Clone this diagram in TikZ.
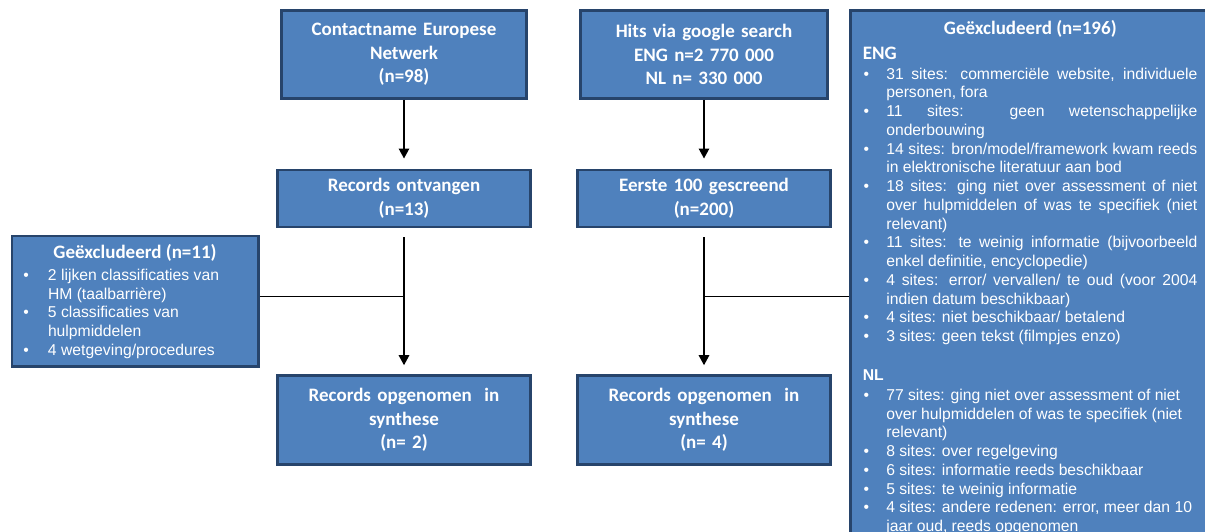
\documentclass[tikz,border=0pt]{standalone}
\usepackage{fontspec}
\setmainfont{Liberation Sans}
\newfontfamily\calfont{Carlito}
\usetikzlibrary{arrows.meta}

\definecolor{boxfill}{HTML}{4F81BD}
\definecolor{boxline}{HTML}{27446B}

% bullet list helpers: \bulx = bullet indent, \txtx = text indent, \txtw = justified width
\newlength\bulx
\newlength\txtx
\newlength\txtw
\newcommand\headfont{\calfont\bfseries\fontsize{19}{23.7}\selectfont}
\newcommand\bitem[1]{\hspace*{\bulx}\makebox[\dimexpr\txtx-\bulx\relax][l]{•}#1}
\newcommand\bitemj[1]{\hspace*{\bulx}\makebox[\dimexpr\txtx-\bulx\relax][l]{•}\makebox[\txtw][s]{#1}}
\newcommand\bcont[1]{\hspace*{\txtx}#1}
\newcommand\bcontj[1]{\hspace*{\txtx}\makebox[\txtw][s]{#1}}

\begin{document}
\begin{tikzpicture}[x=1pt,y=-1pt,
  flowbox/.style={draw=boxline, fill=boxfill, line width=2.6pt, text=white,
    align=center, inner sep=0pt, font=\headfont},
  exclbox/.style={draw=boxline, fill=boxfill, line width=2.6pt, text=white,
    inner sep=0pt, anchor=north west},
  link/.style={line width=1.4pt, draw=black},
  arr/.style={link, -{Triangle[width=10.5pt,length=10pt]}},
]
\useasboundingbox (0,0) rectangle (1205,531);
\clip (0,0) rectangle (1205,531);

% left column
\node[flowbox, minimum width=245pt, minimum height=88pt, text width=240pt]
  (src1) at (404,54.5) {Contactname Europese\\Netwerk\\(n=98)};
\node[flowbox, minimum width=253pt, minimum height=57pt, text width=245pt]
  (rec1) at (404,198.3) {Records ontvangen\\(n=13)};
\node[flowbox, minimum width=253pt, minimum height=89pt, text width=245pt]
  (syn1) at (404,420) {Records opgenomen\ \ in\\synthese\\(n= 2)};

% right column
\node[flowbox, minimum width=247pt, minimum height=88pt, text width=240pt]
  (src2) at (704,54.5) {Hits via google search\\ENG n=2 770 000\\NL n= 330 000};
\node[flowbox, minimum width=253pt, minimum height=57pt, text width=245pt]
  (rec2) at (704,198.3) {Eerste 100 gescreend\\(n=200)};
\node[flowbox, minimum width=253pt, minimum height=89pt, text width=245pt]
  (syn2) at (704,420) {Records opgenomen\ \ in\\synthese\\(n= 4)};

% exclusions, left
\node[exclbox] (exclL) at (10.5,234.5) {\parbox[c][130.5pt][t]{246.5pt}{%
  \setlength\lineskiplimit{-100pt}\fontsize{15.7}{18.75}\selectfont
  \setlength\bulx{11.5pt}\setlength\txtx{36.2pt}%
  \makebox[246.5pt][c]{\rule{0pt}{22.2pt}{\headfont Geëxcludeerd (n=11)}}\\[3.5pt]
  \bitem{2 lijken classificaties van}\\
  \bcont{HM (taalbarrière)}\\
  \bitem{5 classificaties van}\\
  \bcont{hulpmiddelen}\\
  \bitem{4 wetgeving/procedures}}};

% exclusions, right
\node[exclbox] (exclR) at (849,9) {\parbox[c][540pt][t]{360pt}{%
  \setlength\lineskiplimit{-100pt}\fontsize{15.7}{18.75}\selectfont
  \setlength\bulx{13.3pt}\setlength\txtx{36pt}\setlength\txtw{311pt}%
  \makebox[360pt][c]{\rule{0pt}{24.5pt}{\headfont Geëxcludeerd (n=196)}}\\[5.55pt]
  \hspace*{12.5pt}{\headfont ENG}\\[1.25pt]
  \bitemj{31 sites: commerciële website, individuele}\\
  \bcont{personen, fora}\\
  \bitemj{11 sites: geen wetenschappelijke}\\
  \bcont{onderbouwing}\\
  \bitemj{14 sites: bron/model/framework kwam reeds}\\
  \bcont{in elektronische literatuur aan bod}\\
  \bitemj{18 sites: ging niet over assessment of niet}\\
  \bcontj{over hulpmiddelen of was te specifiek (niet}\\
  \bcont{relevant)}\\
  \bitemj{11 sites: te weinig informatie (bijvoorbeeld}\\
  \bcont{enkel definitie, encyclopedie)}\\
  \bitemj{4 sites: error/ vervallen/ te oud (voor 2004}\\
  \bcont{indien datum beschikbaar)}\\
  \bitem{4 sites: niet beschikbaar/ betalend}\\
  \bitem{3 sites: geen tekst (filmpjes enzo)}\\
  \mbox{}\\[1.8pt]
  \hspace*{12.5pt}{\bfseries NL}\\[0.7pt]
  \bitem{77 sites: ging niet over assessment of niet}\\
  \bcont{over hulpmiddelen of was te specifiek (niet}\\
  \bcont{relevant)}\\
  \bitem{8 sites: over regelgeving}\\
  \bitem{6 sites: informatie reeds beschikbaar}\\
  \bitem{5 sites: te weinig informatie}\\
  \bitem{4 sites: andere redenen: error, meer dan 10}\\
  \bcont{jaar oud, reeds opgenomen}}};

% junctions where the exclusion lines meet the main flow
\coordinate (jL) at (404,296.7);
\coordinate (jR) at (704,296.7);

% connectors
\draw[arr, shorten >=10pt] (src1.south) -- (rec1.north);
\draw[arr, shorten <=9pt, shorten >=9pt] (rec1.south) -- (syn1.north);
\draw[arr, shorten >=10pt] (src2.south) -- (rec2.north);
\draw[arr, shorten <=9pt, shorten >=9pt] (rec2.south) -- (syn2.north);
\draw[link] (exclL.east |- jL) -- (jL);
\draw[link] (jR) -- (jR -| exclR.west);
\end{tikzpicture}
\end{document}
